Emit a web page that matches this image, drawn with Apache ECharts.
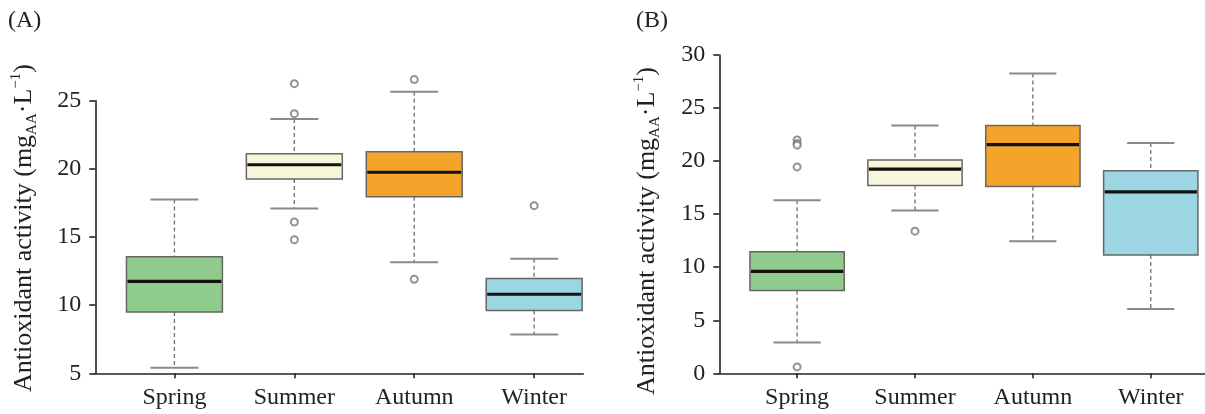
<!DOCTYPE html>
<html>
<head>
<meta charset="utf-8">
<script src="https://cdn.jsdelivr.net/npm/echarts@6/dist/echarts.min.js"></script>
<style>
html,body{margin:0;padding:0;background:#fff;}
#c{width:1205px;height:414px;}
</style>
</head>
<body>
<div id="c"></div>
<script>
// ---- data ----
const categories = ['Spring', 'Summer', 'Autumn', 'Winter'];
// [min whisker, Q1, median, Q3, max whisker]
const boxA = [
  [5.4, 9.5, 11.75, 13.55, 17.75],
  [17.1, 19.25, 20.3, 21.1, 23.65],
  [13.15, 17.95, 19.75, 21.25, 25.65],
  [7.85, 9.6, 10.8, 11.95, 13.4]
];
const outliersA = [
  [2, 26.25], [2, 24.05], [2, 16.1], [2, 14.8],
  [3, 26.55], [3, 11.9],
  [4, 17.3]
];
const boxB = [
  [2.9, 7.8, 9.6, 11.45, 16.3],
  [15.35, 17.7, 19.25, 20.1, 23.35],
  [12.45, 17.6, 21.55, 23.35, 28.25],
  [6.05, 11.15, 17.1, 19.1, 21.7]
];
const outliersB = [
  [1, 22.0], [1, 21.65], [1, 21.5], [1, 19.45], [1, 0.6],
  [2, 13.4]
];
const yTicksA = { min: 5, max: 25, interval: 5 };
const yTicksB = { min: 0, max: 30, interval: 5 };
const fills = ['#8fcc8b', '#f8f6da', '#f4a42b', '#9dd6e3'];

// ---- chart ----
const FONT = 'Liberation Serif';
const chart = echarts.init(document.getElementById('c'), null, { renderer: 'canvas' });

function boxData(arr) {
  return arr.map((b, i) => [i + 1].concat(b));
}

function renderBox(params, api) {
  const x = api.value(0);
  const idx = Math.round(x) - 1;
  const lo = api.coord([x, api.value(1)]);
  const q1 = api.coord([x, api.value(2)]);
  const md = api.coord([x, api.value(3)]);
  const q3 = api.coord([x, api.value(4)]);
  const hi = api.coord([x, api.value(5)]);
  const half = api.size([0.8, 0])[0] / 2;
  const capHalf = api.size([0.4, 0])[0] / 2;
  const cx = lo[0];
  const whisk = { stroke: '#6e6e6e', lineWidth: 1.3, lineDash: [4, 3] };
  const cap = { stroke: '#8a8a8a', lineWidth: 2 };
  return {
    type: 'group',
    children: [
      { type: 'line', shape: { x1: cx, y1: hi[1], x2: cx, y2: q3[1] }, style: whisk },
      { type: 'line', shape: { x1: cx, y1: q1[1], x2: cx, y2: lo[1] }, style: whisk },
      { type: 'line', shape: { x1: cx - capHalf, y1: hi[1], x2: cx + capHalf, y2: hi[1] }, style: cap },
      { type: 'line', shape: { x1: cx - capHalf, y1: lo[1], x2: cx + capHalf, y2: lo[1] }, style: cap },
      { type: 'rect', shape: { x: cx - half, y: q3[1], width: half * 2, height: q1[1] - q3[1] },
        style: { fill: fills[idx], stroke: '#666', lineWidth: 1.5 } },
      { type: 'line', shape: { x1: cx - half + 1, y1: md[1], x2: cx + half - 1, y2: md[1] },
        style: { stroke: '#111', lineWidth: 3.2 } }
    ]
  };
}

function xAxisCfg(gi, max) {
  return {
    type: 'value', gridIndex: gi, min: 0.34, max: max,
    splitLine: { show: false },
    axisLine: { show: true, lineStyle: { color: '#222', width: 1.6 } },
    axisTick: { show: true, customValues: [1, 2, 3, 4], length: 5, lineStyle: { color: '#222', width: 1.6 } },
    axisLabel: {
      show: true, customValues: [1, 2, 3, 4], margin: 12,
      formatter: v => categories[Math.round(v) - 1] || '',
      fontFamily: FONT, fontSize: 24, color: '#222'
    }
  };
}
function yAxisCfg(gi, t) {
  return {
    type: 'value', gridIndex: gi, min: t.min, max: t.max, interval: t.interval,
    splitLine: { show: false },
    axisLine: { show: true, lineStyle: { color: '#222', width: 1.6 } },
    axisTick: { show: true, length: 6, lineStyle: { color: '#222', width: 1.6 } },
    axisLabel: { margin: 14, fontFamily: FONT, fontSize: 24, color: '#222' }
  };
}
const outlierStyle = {
  type: 'scatter', symbol: 'emptyCircle', symbolSize: 7, clip: false,
  itemStyle: { color: '#777', borderColor: '#777', borderWidth: 1.6 },
  silent: true
};
const yNameRich = {
  sub: { fontFamily: FONT, fontSize: 15, verticalAlign: 'bottom', lineHeight: 31 },
  sup: { fontFamily: FONT, fontSize: 15, verticalAlign: 'top', lineHeight: 31 }
};
function yName(x, y) {
  return {
    type: 'text', x: x, y: y, rotation: Math.PI / 2,
    style: {
      text: 'Antioxidant activity (mg{sub|AA}·L{sup|−1})',
      fontFamily: FONT, fontSize: 26, fill: '#222',
      align: 'center', verticalAlign: 'middle', lineHeight: 31,
      rich: yNameRich
    }
  };
}

chart.setOption({
  animation: false,
  backgroundColor: '#fff',
  grid: [
    { left: 95.3, top: 100.7, width: 488, height: 272.6 },
    { left: 719.3, top: 55, width: 485.7, height: 318.3 }
  ],
  xAxis: [xAxisCfg(0, 4.41), xAxisCfg(1, 4.46)],
  yAxis: [yAxisCfg(0, yTicksA), yAxisCfg(1, yTicksB)],
  graphic: [
    { type: 'text', x: 8, y: 9, style: { text: '(A)', fontFamily: FONT, fontSize: 24, fill: '#222' } },
    { type: 'text', x: 636, y: 9, style: { text: '(B)', fontFamily: FONT, fontSize: 24, fill: '#222' } },
    yName(24, 228),
    yName(647, 231)
  ],
  series: [
    { type: 'custom', xAxisIndex: 0, yAxisIndex: 0, renderItem: renderBox, clip: false,
      encode: { x: 0, y: [1, 2, 3, 4, 5] }, data: boxData(boxA), silent: true },
    Object.assign({ xAxisIndex: 0, yAxisIndex: 0, data: outliersA }, outlierStyle),
    { type: 'custom', xAxisIndex: 1, yAxisIndex: 1, renderItem: renderBox, clip: false,
      encode: { x: 0, y: [1, 2, 3, 4, 5] }, data: boxData(boxB), silent: true },
    Object.assign({ xAxisIndex: 1, yAxisIndex: 1, data: outliersB }, outlierStyle)
  ]
});
</script>
</body>
</html>
